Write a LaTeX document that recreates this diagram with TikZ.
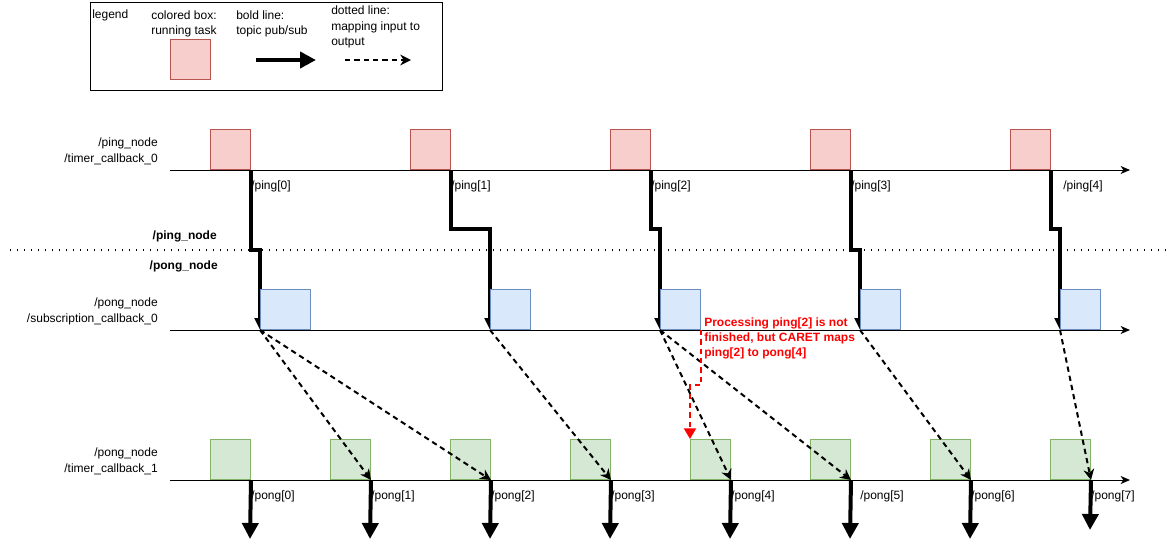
\documentclass[tikz,border=0pt]{standalone}
\usepackage{fontspec}
\setmainfont{Liberation Sans}
\usetikzlibrary{arrows.meta,backgrounds}

\tikzset{
  txt/.style={font=\fontsize{9}{11.5}\selectfont, inner sep=0pt},
  rowtxt/.style={font=\fontsize{9}{12}\selectfont, inner sep=0pt, align=right, anchor=east},
  box/.style={line width=0.75pt, minimum width=30pt, minimum height=30pt, inner sep=0pt, anchor=south west},
  pingbox/.style={box, draw={rgb, 255:red, 184; green, 84; blue, 80}, fill={rgb, 255:red, 248; green, 206; blue, 204}},
  subbox/.style={box, draw={rgb, 255:red, 108; green, 142; blue, 191}, fill={rgb, 255:red, 218; green, 232; blue, 252}},
  pongbox/.style={box, draw={rgb, 255:red, 130; green, 179; blue, 102}, fill={rgb, 255:red, 213; green, 232; blue, 212}},
  axis/.style={line width=0.75pt, -{Stealth[length=7pt, width=6pt, inset=2pt]}},
  pub/.style={line width=3pt, -{Triangle[length=12pt, width=12pt]}},
  pubin/.style={line width=2.6pt, -{Triangle[length=9pt, width=8pt]}},
  maps/.style={line width=1.5pt, dash pattern=on 4pt off 3pt, -{Stealth[length=8pt, width=8pt, inset=2.5pt]}},
  note/.style={line width=1.5pt, draw={rgb, 255:red, 255; green, 0; blue, 0}, dash pattern=on 4pt off 3pt, -{Triangle[length=8pt, width=9pt]}}
}

\begin{document}
\begin{tikzpicture}[x=0.75pt,y=0.75pt,yscale=-1,xscale=1]
    \useasboundingbox (0,0) rectangle (1168,551);

    %Shape: Rectangle [legend]
    \node [draw, line width=0.75pt, minimum width=264pt, minimum height=66pt, inner sep=0pt, anchor=north west] (leg) at (90,2) {};
    \node [pingbox] (legbox) at (170,80) {};
    \coordinate (legpa) at (256,60);
    \coordinate (legpb) at (316,60);
    \coordinate (legma) at (345,60);
    \coordinate (legmb) at (411,60);
    \draw [pub] (legpa) -- (legpb);
    \draw [maps] (legma) -- (legmb);
    % Text Node
    \node [txt, anchor=west] (legt0) at (92,15) {legend};
    \node [txt, align=center] (legt1) at (184,24) {colored box:\\running task};
    \node [txt, align=left, anchor=west] (legt2) at (236,24) {bold line:\\topic pub/sub};
    \node [txt, align=left, anchor=west] (legt3) at (331,27) {dotted line:\\mapping input to\\output};

    %Straight Lines [time axes]
    \coordinate (ax1a) at (170,170);
    \coordinate (ax1b) at (1130,170);
    \coordinate (ax2a) at (170,330);
    \coordinate (ax2b) at (1130,330);
    \coordinate (ax3a) at (170,480);
    \coordinate (ax3b) at (1130,480);
    \draw [axis] (ax1a) -- (ax1b);
    \draw [axis] (ax2a) -- (ax2b);
    \draw [axis] (ax3a) -- (ax3b);

    %Straight Lines [node border]
    \coordinate (sepa) at (10,250);
    \coordinate (sepb) at (1166,250);
    \draw [line width=1.2pt, dash pattern=on 1pt off 4.25pt] (sepa) -- (sepb);

    % Text Node
    \node [rowtxt] (row1) at (158,151) {/ping\_node\\/timer\_callback\_0};
    \node [rowtxt] (row2) at (158,311) {/pong\_node\\/subscription\_callback\_0};
    \node [rowtxt] (row3) at (158,461) {/pong\_node\\/timer\_callback\_1};
    \node [txt, font=\fontsize{9}{12}\selectfont\bfseries, anchor=east] (nping) at (217,236) {/ping\_node};
    \node [txt, font=\fontsize{9}{12}\selectfont\bfseries, anchor=east] (npong) at (218,266) {/pong\_node};

    %Shape: Rectangle [ping timer]
    \node [pingbox] (p0) at (210,170) {};
    \node [pingbox] (p1) at (410,170) {};
    \node [pingbox] (p2) at (610,170) {};
    \node [pingbox] (p3) at (810,170) {};
    \node [pingbox] (p4) at (1010,170) {};

    %Shape: Rectangle [subscription]
    \node [subbox, minimum width=37.5pt] (s0) at (260,330) {};
    \node [subbox] (s1) at (490,330) {};
    \node [subbox] (s2) at (660,330) {};
    \node [subbox] (s3) at (860,330) {};
    \node [subbox] (s4) at (1060,330) {};

    %Shape: Rectangle [pong timer]
    \node [pongbox] (q0) at (210,480) {};
    \node [pongbox] (q1) at (330,480) {};
    \node [pongbox] (q2) at (450,480) {};
    \node [pongbox] (q3) at (570,480) {};
    \node [pongbox] (q4) at (690,480) {};
    \node [pongbox] (q5) at (810,480) {};
    \node [pongbox] (q6) at (930,480) {};
    \node [pongbox] (q7) at (1050,480) {};

    %Straight Lines [ping topic]
    \begin{pgfonlayer}{background}
    \draw [pubin] (p0.south east) -- ++(0,80) -| (s0.south west);
    \draw [pubin] (p1.south east) -- ++(0,59) -| (s1.south west);
    \draw [pubin] (p2.south east) -- ++(0,59) -| (s2.south west);
    \draw [pubin] (p3.south east) -- ++(0,80) -| (s3.south west);
    \draw [pubin] (p4.south east) -- ++(0,59) -| (s4.south west);
    \end{pgfonlayer}

    % Text Node
    \node [txt, anchor=west] (tp0) at (251,186) {/ping[0]};
    \node [txt, anchor=west] (tp1) at (451,186) {/ping[1]};
    \node [txt, anchor=west] (tp2) at (651,186) {/ping[2]};
    \node [txt, anchor=west] (tp3) at (851,186) {/ping[3]};
    \node [txt, anchor=west] (tp4) at (1063,186) {/ping[4]};

    %Straight Lines [pong topic]
    \coordinate (e0) at (250,539);
    \coordinate (e1) at (370,539);
    \coordinate (e2) at (490,539);
    \coordinate (e3) at (610,539);
    \coordinate (e4) at (730,539);
    \coordinate (e5) at (850,539);
    \coordinate (e6) at (970,539);
    \coordinate (e7) at (1090,530);
    \draw [pub] (q0.south east) -- (e0);
    \draw [pub] (q1.south east) -- (e1);
    \draw [pub] (q2.south east) -- (e2);
    \draw [pub] (q3.south east) -- (e3);
    \draw [pub] (q4.south east) -- (e4);
    \draw [pub] (q5.south east) -- (e5);
    \draw [pub] (q6.south east) -- (e6);
    \draw [pub] (q7.south east) -- (e7);

    % Text Node
    \node [txt, anchor=west] (tq0) at (251,496) {/pong[0]};
    \node [txt, anchor=west] (tq1) at (371,496) {/pong[1]};
    \node [txt, anchor=west] (tq2) at (491,496) {/pong[2]};
    \node [txt, anchor=west] (tq3) at (611,496) {/pong[3]};
    \node [txt, anchor=west] (tq4) at (731,496) {/pong[4]};
    \node [txt, anchor=west] (tq5) at (860,496) {/pong[5]};
    \node [txt, anchor=west] (tq6) at (971,496) {/pong[6]};
    \node [txt, anchor=west] (tq7) at (1091,496) {/pong[7]};

    %Curve Lines [mapping]
    \draw [maps] (s0.south west) -- (q1.south east);
    \draw [maps] (s0.south west) -- (q2.south east);
    \draw [maps] (s1.south west) -- (q3.south east);
    \draw [maps] (s2.south west) -- (q4.south east);
    \draw [maps] (s2.south west) -- (q5.south east);
    \draw [maps] (s3.south west) -- (q6.south east);
    \draw [maps] (s4.south west) -- (q7.south east);

    %Straight Lines [remark]
    \draw [note] (s2.south east) -- ++(0,55) -| (q4.north west);
    % Text Node
    \node [txt, align=left, anchor=west, text={rgb, 255:red, 255; green, 0; blue, 0}, font=\fontsize{9}{11.25}\selectfont\bfseries] (rem) at (704,338) {Processing ping[2] is not\\finished, but CARET maps\\ping[2] to pong[4]};

\end{tikzpicture}
\end{document}
